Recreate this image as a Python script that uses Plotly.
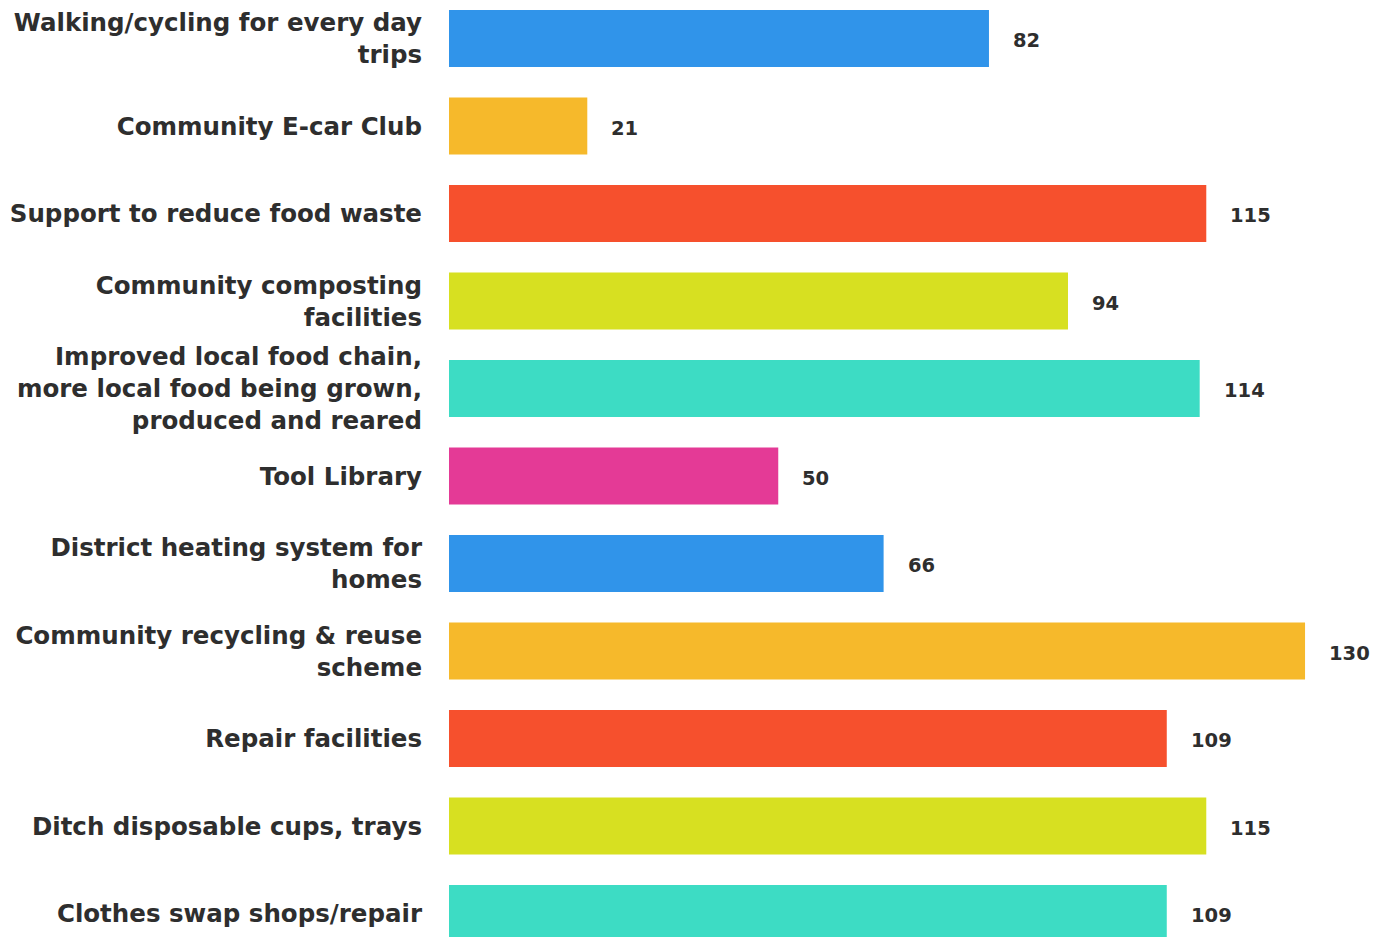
import plotly.graph_objects as go

categories = [
    "Walking/cycling for every day<br>trips",
    "Community E-car Club",
    "Support to reduce food waste",
    "Community composting<br>facilities",
    "Improved local food chain,<br>more local food being grown,<br>produced and reared",
    "Tool Library",
    "District heating system for<br>homes",
    "Community recycling & reuse<br>scheme",
    "Repair facilities",
    "Ditch disposable cups, trays",
    "Clothes swap shops/repair",
]
values = [82, 21, 115, 94, 114, 50, 66, 130, 109, 115, 109]
colors = ["#3094EA", "#F6B92B", "#F6502D", "#D7E021", "#3DDCC4", "#E43A96",
          "#3094EA", "#F6B92B", "#F6502D", "#D7E021", "#3DDCC4"]

FONT = "DejaVu Sans"
TXT = "#2e2e2e"

fig = go.Figure()
fig.add_trace(go.Bar(
    y=categories, x=values, orientation="h",
    marker=dict(color=colors, line=dict(width=0)),
    width=0.65, hoverinfo="skip",
))

for c, v in zip(categories, values):
    fig.add_annotation(x=v, y=c, text=f"<b>{v}</b>", showarrow=False,
                       xanchor="left", xshift=22, yshift=-2,
                       font=dict(family=FONT, size=19.5, color=TXT))

fig.update_layout(
    width=1390, height=937,
    margin=dict(l=441, r=0, t=0, b=0),
    paper_bgcolor="white", plot_bgcolor="white",
    showlegend=False,
    xaxis=dict(range=[0, 949 / 6.585], visible=False, fixedrange=True),
    yaxis=dict(
        type="category", categoryorder="array", categoryarray=categories,
        range=[10.36, -0.349], showgrid=False, zeroline=False, showline=False,
        ticks="", ticklabelstandoff=26,
        tickfont=dict(family=FONT, size=24.5, color=TXT, weight="bold"),
    ),
)

fig.write_html("out.html")
